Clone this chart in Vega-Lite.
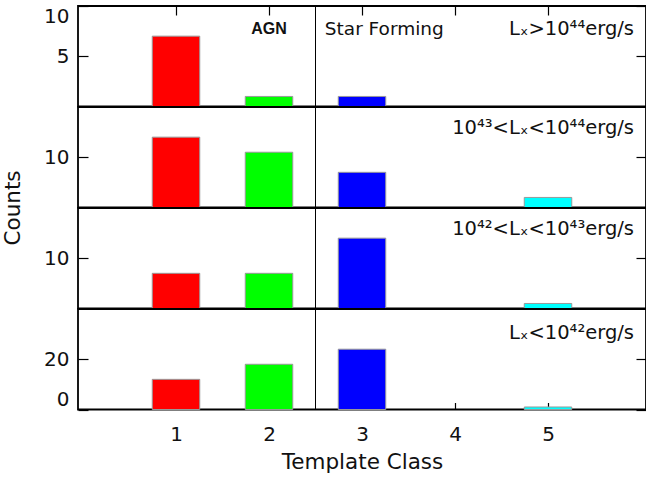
{
  "$schema": "https://vega.github.io/schema/vega-lite/v6.json",
  "padding": {"left": 1, "top": 4, "right": 0, "bottom": 0},
  "spacing": 0,
  "bounds": "flush",
  "resolve": {
    "scale": {"x": "independent", "y": "independent"},
    "axis": {"x": "independent", "y": "independent"}
  },
  "config": {
    "view": {"stroke": "black", "strokeWidth": 1.8},
    "axis": {
      "domain": false,
      "grid": false,
      "ticks": true,
      "zindex": 1,
      "tickColor": "black",
      "tickOpacity": 1,
      "tickWidth": 1.2,
      "labelFont": "DejaVu Sans",
      "labelFontSize": 20,
      "labelColor": "#111",
      "titleFont": "DejaVu Sans",
      "titleFontSize": 21.5,
      "titleFontWeight": "normal",
      "titleColor": "#111"
    },
    "text": {"font": "DejaVu Sans", "color": "#111"}
  },
  "datasets": {
    "counts": [
      {"band": "gt44", "cls": 1, "n": 7},
      {"band": "gt44", "cls": 2, "n": 1},
      {"band": "gt44", "cls": 3, "n": 1},
      {"band": "43to44", "cls": 1, "n": 14},
      {"band": "43to44", "cls": 2, "n": 11},
      {"band": "43to44", "cls": 3, "n": 7},
      {"band": "43to44", "cls": 5, "n": 2},
      {"band": "42to43", "cls": 1, "n": 7},
      {"band": "42to43", "cls": 2, "n": 7},
      {"band": "42to43", "cls": 3, "n": 14},
      {"band": "42to43", "cls": 5, "n": 1},
      {"band": "lt42", "cls": 1, "n": 12},
      {"band": "lt42", "cls": 2, "n": 18},
      {"band": "lt42", "cls": 3, "n": 24},
      {"band": "lt42", "cls": 5, "n": 1}
    ]
  },
  "vconcat": [
    {
      "width": 568,
      "height": 100.5,
      "layer": [
        {
          "data": {"name": "counts"},
          "transform": [{"filter": "datum.band === 'gt44'"}],
          "mark": {"type": "bar", "size": 47.5, "stroke": "#999", "strokeWidth": 1},
          "encoding": {
            "x": {"field": "cls", "type": "quantitative", "scale": {"domain": [0, 6], "nice": false, "zero": false},
                  "axis": {"orient": "top", "values": [1, 2, 3, 4, 5], "labels": false, "ticks": true, "tickSize": 9, "offset": -9, "title": null}},
            "y": {"field": "n", "type": "quantitative", "scale": {"domain": [0, 10], "nice": false},
                  "axis": {"orient": "left", "values": [5, 10], "tickSize": -10, "labelPadding": 19, "labelFlush": true, "title": null}},
            "color": {"field": "cls", "type": "nominal", "legend": null,
                      "scale": {"domain": [1, 2, 3, 4, 5], "range": ["#ff0000", "#00ff00", "#0000ff", "#ffff00", "#00ffff"]}}
          }
        },
        {"data": {"values": [{}]}, "mark": {"type": "rule", "color": "black", "strokeWidth": 1}, "encoding": {"x": {"datum": 2.5, "type": "quantitative", "axis": null}}},
        {
          "data": {"values": [{}]},
          "mark": {"type": "text", "font": "Liberation Sans", "fontWeight": "bold", "fontSize": 16, "align": "center", "baseline": "middle"},
          "encoding": {"x": {"datum": 2, "type": "quantitative", "axis": null}, "y": {"datum": 7.75, "type": "quantitative", "axis": null}, "text": {"value": "AGN"}}
        },
        {
          "data": {"values": [{}]},
          "mark": {"type": "text", "fontSize": 18.5, "align": "left", "baseline": "middle"},
          "encoding": {"x": {"datum": 2.6, "type": "quantitative", "axis": null}, "y": {"datum": 7.75, "type": "quantitative", "axis": null}, "text": {"value": "Star Forming"}}
        },
        {
          "data": {"values": [{}]},
          "mark": {"type": "text", "fontSize": 19.5, "align": "right", "baseline": "middle"},
          "encoding": {
            "x": {"datum": 5.925, "type": "quantitative", "axis": null},
            "y": {"datum": 7.75, "type": "quantitative", "axis": {"orient": "right", "values": [5, 10], "tickSize": -10, "labels": false, "title": null}},
            "text": {"value": "Lₓ>10⁴⁴erg/s"}
          }
        }
      ],
      "resolve": {"axis": {"x": "independent", "y": "independent"}}
    },
    {
      "width": 568,
      "height": 100.5,
      "layer": [
        {
          "data": {"name": "counts"},
          "transform": [{"filter": "datum.band === '43to44'"}],
          "mark": {"type": "bar", "size": 47.5, "stroke": "#999", "strokeWidth": 1},
          "encoding": {
            "x": {"field": "cls", "type": "quantitative", "scale": {"domain": [0, 6], "nice": false, "zero": false}, "axis": null},
            "y": {"field": "n", "type": "quantitative", "scale": {"domain": [0, 20], "nice": false},
                  "axis": {"orient": "left", "values": [10], "tickSize": -10, "labelPadding": 19, "labelFlush": true,
                           "title": "Counts", "titleX": -59, "titleY": 100.5, "titleAngle": -90, "titleAlign": "center", "titleBaseline": "alphabetic"}},
            "color": {"field": "cls", "type": "nominal", "legend": null,
                      "scale": {"domain": [1, 2, 3, 4, 5], "range": ["#ff0000", "#00ff00", "#0000ff", "#ffff00", "#00ffff"]}}
          }
        },
        {"data": {"values": [{}]}, "mark": {"type": "rule", "color": "black", "strokeWidth": 1}, "encoding": {"x": {"datum": 2.5, "type": "quantitative", "axis": null}}},
        {
          "data": {"values": [{}]},
          "mark": {"type": "text", "fontSize": 19.5, "align": "right", "baseline": "middle"},
          "encoding": {
            "x": {"datum": 5.925, "type": "quantitative", "axis": null},
            "y": {"datum": 15.8, "type": "quantitative", "axis": {"orient": "right", "values": [10], "tickSize": -10, "labels": false, "title": null}},
            "text": {"value": "10⁴³<Lₓ<10⁴⁴erg/s"}
          }
        }
      ],
      "resolve": {"axis": {"x": "independent", "y": "independent"}}
    },
    {
      "width": 568,
      "height": 100.5,
      "layer": [
        {
          "data": {"name": "counts"},
          "transform": [{"filter": "datum.band === '42to43'"}],
          "mark": {"type": "bar", "size": 47.5, "stroke": "#999", "strokeWidth": 1},
          "encoding": {
            "x": {"field": "cls", "type": "quantitative", "scale": {"domain": [0, 6], "nice": false, "zero": false}, "axis": null},
            "y": {"field": "n", "type": "quantitative", "scale": {"domain": [0, 20], "nice": false},
                  "axis": {"orient": "left", "values": [10], "tickSize": -10, "labelPadding": 19, "labelFlush": true, "title": null}},
            "color": {"field": "cls", "type": "nominal", "legend": null,
                      "scale": {"domain": [1, 2, 3, 4, 5], "range": ["#ff0000", "#00ff00", "#0000ff", "#ffff00", "#00ffff"]}}
          }
        },
        {"data": {"values": [{}]}, "mark": {"type": "rule", "color": "black", "strokeWidth": 1}, "encoding": {"x": {"datum": 2.5, "type": "quantitative", "axis": null}}},
        {
          "data": {"values": [{}]},
          "mark": {"type": "text", "fontSize": 19.5, "align": "right", "baseline": "middle"},
          "encoding": {
            "x": {"datum": 5.925, "type": "quantitative", "axis": null},
            "y": {"datum": 15.9, "type": "quantitative", "axis": {"orient": "right", "values": [10], "tickSize": -10, "labels": false, "title": null}},
            "text": {"value": "10⁴²<Lₓ<10⁴³erg/s"}
          }
        }
      ],
      "resolve": {"axis": {"x": "independent", "y": "independent"}}
    },
    {
      "width": 568,
      "height": 100.5,
      "layer": [
        {
          "data": {"name": "counts"},
          "transform": [{"filter": "datum.band === 'lt42'"}],
          "mark": {"type": "bar", "size": 47.5, "stroke": "#999", "strokeWidth": 1},
          "encoding": {
            "x": {"field": "cls", "type": "quantitative", "scale": {"domain": [0, 6], "nice": false, "zero": false},
                  "axis": {"orient": "bottom", "values": [1, 2, 3, 4, 5], "ticks": true, "tickSize": 7, "offset": -7, "labelPadding": 15, "labelBaseline": "top",
                           "title": "Template Class", "titleY": 49, "titleBaseline": "top"}},
            "y": {"field": "n", "type": "quantitative", "scale": {"domain": [0, 40], "nice": false},
                  "axis": {"orient": "left", "values": [0, 20], "tickSize": -10, "labelPadding": 19, "labelFlush": true, "title": null}},
            "color": {"field": "cls", "type": "nominal", "legend": null,
                      "scale": {"domain": [1, 2, 3, 4, 5], "range": ["#ff0000", "#00ff00", "#0000ff", "#ffff00", "#00ffff"]}}
          }
        },
        {"data": {"values": [{}]}, "mark": {"type": "rule", "color": "black", "strokeWidth": 1}, "encoding": {"x": {"datum": 2.5, "type": "quantitative", "axis": null}}},
        {
          "data": {"values": [{}]},
          "mark": {"type": "text", "fontSize": 19.5, "align": "right", "baseline": "middle"},
          "encoding": {
            "x": {"datum": 5.925, "type": "quantitative", "axis": null},
            "y": {"datum": 30.3, "type": "quantitative", "axis": {"orient": "right", "values": [0, 20], "tickSize": -10, "labels": false, "title": null}},
            "text": {"value": "Lₓ<10⁴²erg/s"}
          }
        }
      ],
      "resolve": {"axis": {"x": "independent", "y": "independent"}}
    }
  ]
}
